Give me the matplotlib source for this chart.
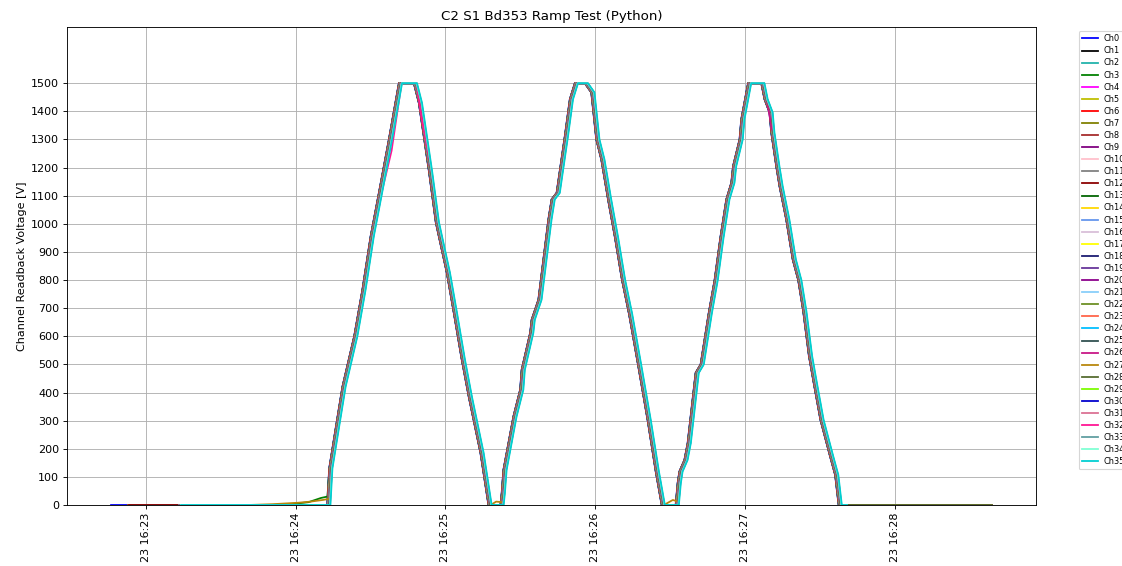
import numpy as np
import matplotlib
matplotlib.use("Agg")
import matplotlib.pyplot as plt
import matplotlib.dates as mdates

# ---------------- data ----------------
TITLE = "C2 S1 Bd353 Ramp Test (Python)"
YLABEL = "Channel Readback Voltage [V]"
T0 = np.datetime64("2024-05-23T16:20:00")

# shared ramp profile: seconds after 16:20:00, volts
BASE_T = [166, 172.8, 180, 186, 192.8, 200, 210, 220, 230, 240, 245, 250,
          252.6, 253.4, 256.1, 258.7, 263.4, 266.7, 270.0, 273.3, 277.3, 281.3,
          287.3, 289.3, 293.3, 296.1, 300.5, 303.3, 306.5, 309.3, 314.0, 317.2,
          319.4, 322.0, 322.5, 323.2, 327.2, 329.9, 330.5, 333.9, 334.5, 337.2,
          339.2, 341.2, 342.5, 344.5, 347.8, 349.8, 351.8,
          355.8, 358.4, 360.4, 362.4, 365.1, 367.9, 370.7, 373.5, 377.1, 381.0,
          384.2, 386.6,
          390.2, 392.2, 393.0, 393.7, 395.7, 397.0, 400.2, 402.2, 405.4, 407.8,
          410.1, 412.5, 414.5, 415.2, 417.8, 418.5, 421.2,
          426.5, 427.8, 429.8, 430.5, 432.5, 433.8, 436.5, 439.1, 441.3, 443.3,
          445.6, 447.6, 450.2, 454.1, 456.1, 457.5,
          459.6, 470, 480, 490, 500, 510, 518]
BASE_V = [0, 0, 0, 0, 0, 0, 0, 0, 0, 0, 0, 0,
          0, 130, 279, 421, 600, 766, 956, 1110, 1300, 1500,
          1500, 1430, 1190, 1005, 826, 684, 517, 385, 185, 0,
          0, 0, 42, 125, 315, 410, 481, 612, 659, 730,
          873, 1015, 1087, 1110, 1312, 1443, 1500,
          1500, 1467, 1300, 1229, 1087, 950, 800, 680, 500, 300,
          120, 0,
          0, 0, 78, 119, 160, 220, 470, 500, 680, 800,
          950, 1087, 1146, 1205, 1300, 1372, 1500,
          1500, 1443, 1396, 1325, 1205, 1134, 1015, 873, 800, 690,
          530, 430, 303, 172, 107, 0,
          0, 0, 0, 0, 0, 0, 0]

# per-channel deviations from the shared profile (time -> volts)
OVERRIDES = {
    3: {240: 5, 245: 10, 250: 25, 252.6: 30},
    27: {230: 3, 240: 8, 245: 12, 250: 18, 252.6: 22,
         319.4: 12, 322.0: 10, 390.2: 18, 392.2: 12},
    32: {277.3: 1260, 289.3: 1380},
    26: {429.8: 1340},
}

CHANNELS = [f"Ch{i}" for i in range(36)]
CH_OFFSET = [0.0, 0.05, 0.1, 0.1, 0.15, 0.2, 0.2, 0.25, 0.3, 0.3, 0.35, 0.4,
             0.4, 0.45, 0.5, 0.5, 0.55, 0.6, 0.6, 0.65, 0.7, 0.7, 0.75, 0.8,
             0.8, 0.85, 0.9, 0.9, 0.95, 1.0, 1.0, 1.05, 1.1, 1.1, 1.15, 1.3]
CH_START = [166] + [172.8] * 12 + [192.8] * 23
CH_END = [518] * 29 + [459.6] * 7

COLORS = ["blue", "black", "lightseagreen", "green", "magenta", "y", "red",
          "olive", "brown", "purple", "pink", "gray", "darkred", "darkgreen",
          "gold", "cornflowerblue", "thistle", "yellow", "midnightblue",
          "rebeccapurple", "darkmagenta", "lightskyblue", "olivedrab", "tomato",
          "deepskyblue", "darkslategray", "mediumvioletred", "darkgoldenrod",
          "darkolivegreen", "lawngreen", "mediumblue", "palevioletred",
          "deeppink", "cadetblue", "aquamarine", "darkturquoise"]

YTICKS = list(range(0, 1600, 100))
YLIM = (0, 1700)

# ---------------- plot ----------------
W, H, DPI = 1122, 566, 80
fig = plt.figure(figsize=(W / DPI, H / DPI), dpi=DPI)
ax = fig.add_axes([67 / W, 61 / H, 969 / W, 478 / H])

bt = np.array(BASE_T, dtype=float)
for ch, name in enumerate(CHANNELS):
    v = np.array(BASE_V, dtype=float)
    for tt, vv in OVERRIDES.get(ch, {}).items():
        v[np.isclose(bt, tt)] = vv
    mask = (bt >= CH_START[ch] - 1e-6) & (bt <= CH_END[ch] + 1e-6)
    ts = T0 + np.round((bt[mask] + CH_OFFSET[ch]) * 1000).astype("timedelta64[ms]")
    ax.plot(ts, v[mask], color=COLORS[ch], label=name, linewidth=1.6)

ax.set_ylim(*YLIM)
ax.set_yticks(YTICKS)
ax.xaxis.set_major_locator(mdates.MinuteLocator())
ax.xaxis.set_major_formatter(mdates.DateFormatter("%d %H:%M"))
for lab in ax.get_xticklabels():
    lab.set_rotation(90)
ax.tick_params(labelsize=10)
ax.grid(True)
ax.set_title(TITLE, fontsize=12)
ax.set_ylabel(YLABEL, fontsize=10)
ax.legend(loc="upper left", bbox_to_anchor=(1.04, 1), fontsize=7.3,
          handlelength=2.0, handletextpad=0.7, labelspacing=0.38)

fig.savefig("out.png", dpi=DPI)
